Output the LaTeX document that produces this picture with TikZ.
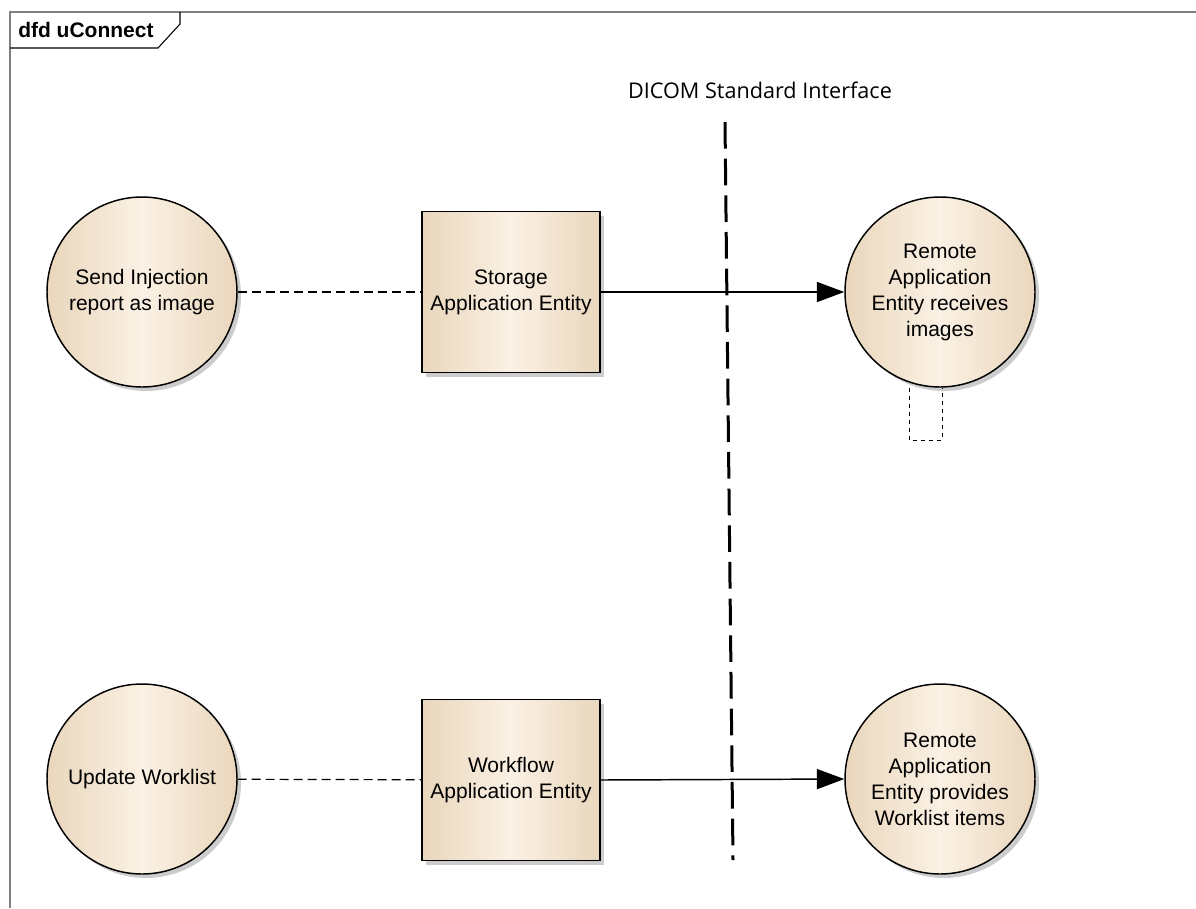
\documentclass[tikz,border=0pt]{standalone}
\usepackage{fontspec}
\setmainfont{Liberation Sans}
\newfontfamily\uifont{Open Sans}
\usetikzlibrary{arrows.meta,shadows}

\definecolor{procedge}{RGB}{233,214,188}
\definecolor{procmid}{RGB}{251,241,228}

\begin{document}
\begin{tikzpicture}[x=0.75pt,y=-0.75pt,
    proc/.style={circle,draw=black,line width=1.1pt,minimum size=142.5pt,inner sep=0pt,
        left color=procedge,right color=procedge,middle color=procmid,
        align=center,font=\fontsize{15.75}{19.5}\selectfont,
        drop shadow={shadow xshift=3pt,shadow yshift=-3pt,fill=black!40}},
    entity/.style={proc,rectangle,minimum width=133.5pt,minimum height=120.75pt},
    assoc/.style={line width=0.9pt,dash pattern=on 6.75pt off 3.75pt},
    flow/.style={line width=1.1pt,-{Triangle[length=20.5pt,width=15pt]}},
    iface/.style={line width=2.25pt,dash pattern=on 20pt off 7.5pt},
    stub/.style={line width=0.7pt,dash pattern=on 3pt off 3pt}]

    \useasboundingbox (0,0) rectangle (1196,908);

    % frame and tab
    \draw[gray,line width=1.1pt] (1196,12) -- (10,12) -- (10,908);
    \draw[line width=0.8pt] (10,48) -- (158,48) -- (180,24) -- (180,12);
    \node[anchor=west,inner sep=0pt,font=\fontsize{15.75}{18}\selectfont\bfseries] (title) at (18,30) {dfd uConnect};

    % interface line
    \coordinate (ifacetop) at (725,122);
    \coordinate (ifacebot) at (733,860);
    \node[font=\uifont\fontsize{16.2}{19}\selectfont] (ifacelabel) at (760,90) {DICOM Standard Interface};

    % upper row
    \node[proc] (send) at (142,292) {Send Injection\\report as image};
    \node[entity] (storage) at (511,292) {Storage\\Application Entity};
    \node[proc] (recv) at (940,292) {Remote\\Application\\Entity receives\\images};

    % lower row
    \node[proc] (update) at (142,779) {Update Worklist};
    \node[entity] (workflow) at (511,780) {Workflow\\Application Entity};
    \node[proc] (provide) at (940,779) {Remote\\Application\\Entity provides\\Worklist items};

    \draw[iface] (ifacetop) -- (ifacebot);

    \draw[assoc] (send) -- (storage);
    \draw[assoc] (update) -- (workflow);
    \draw[flow] (storage) -- (recv);
    \draw[flow] (workflow.east) -- (provide.west);

    \draw[stub] ([shift={(-31,96)}]recv.center) |- ([shift={(2,148)}]recv.center)
        -- ([shift={(2,96)}]recv.center);

\end{tikzpicture}
\end{document}
